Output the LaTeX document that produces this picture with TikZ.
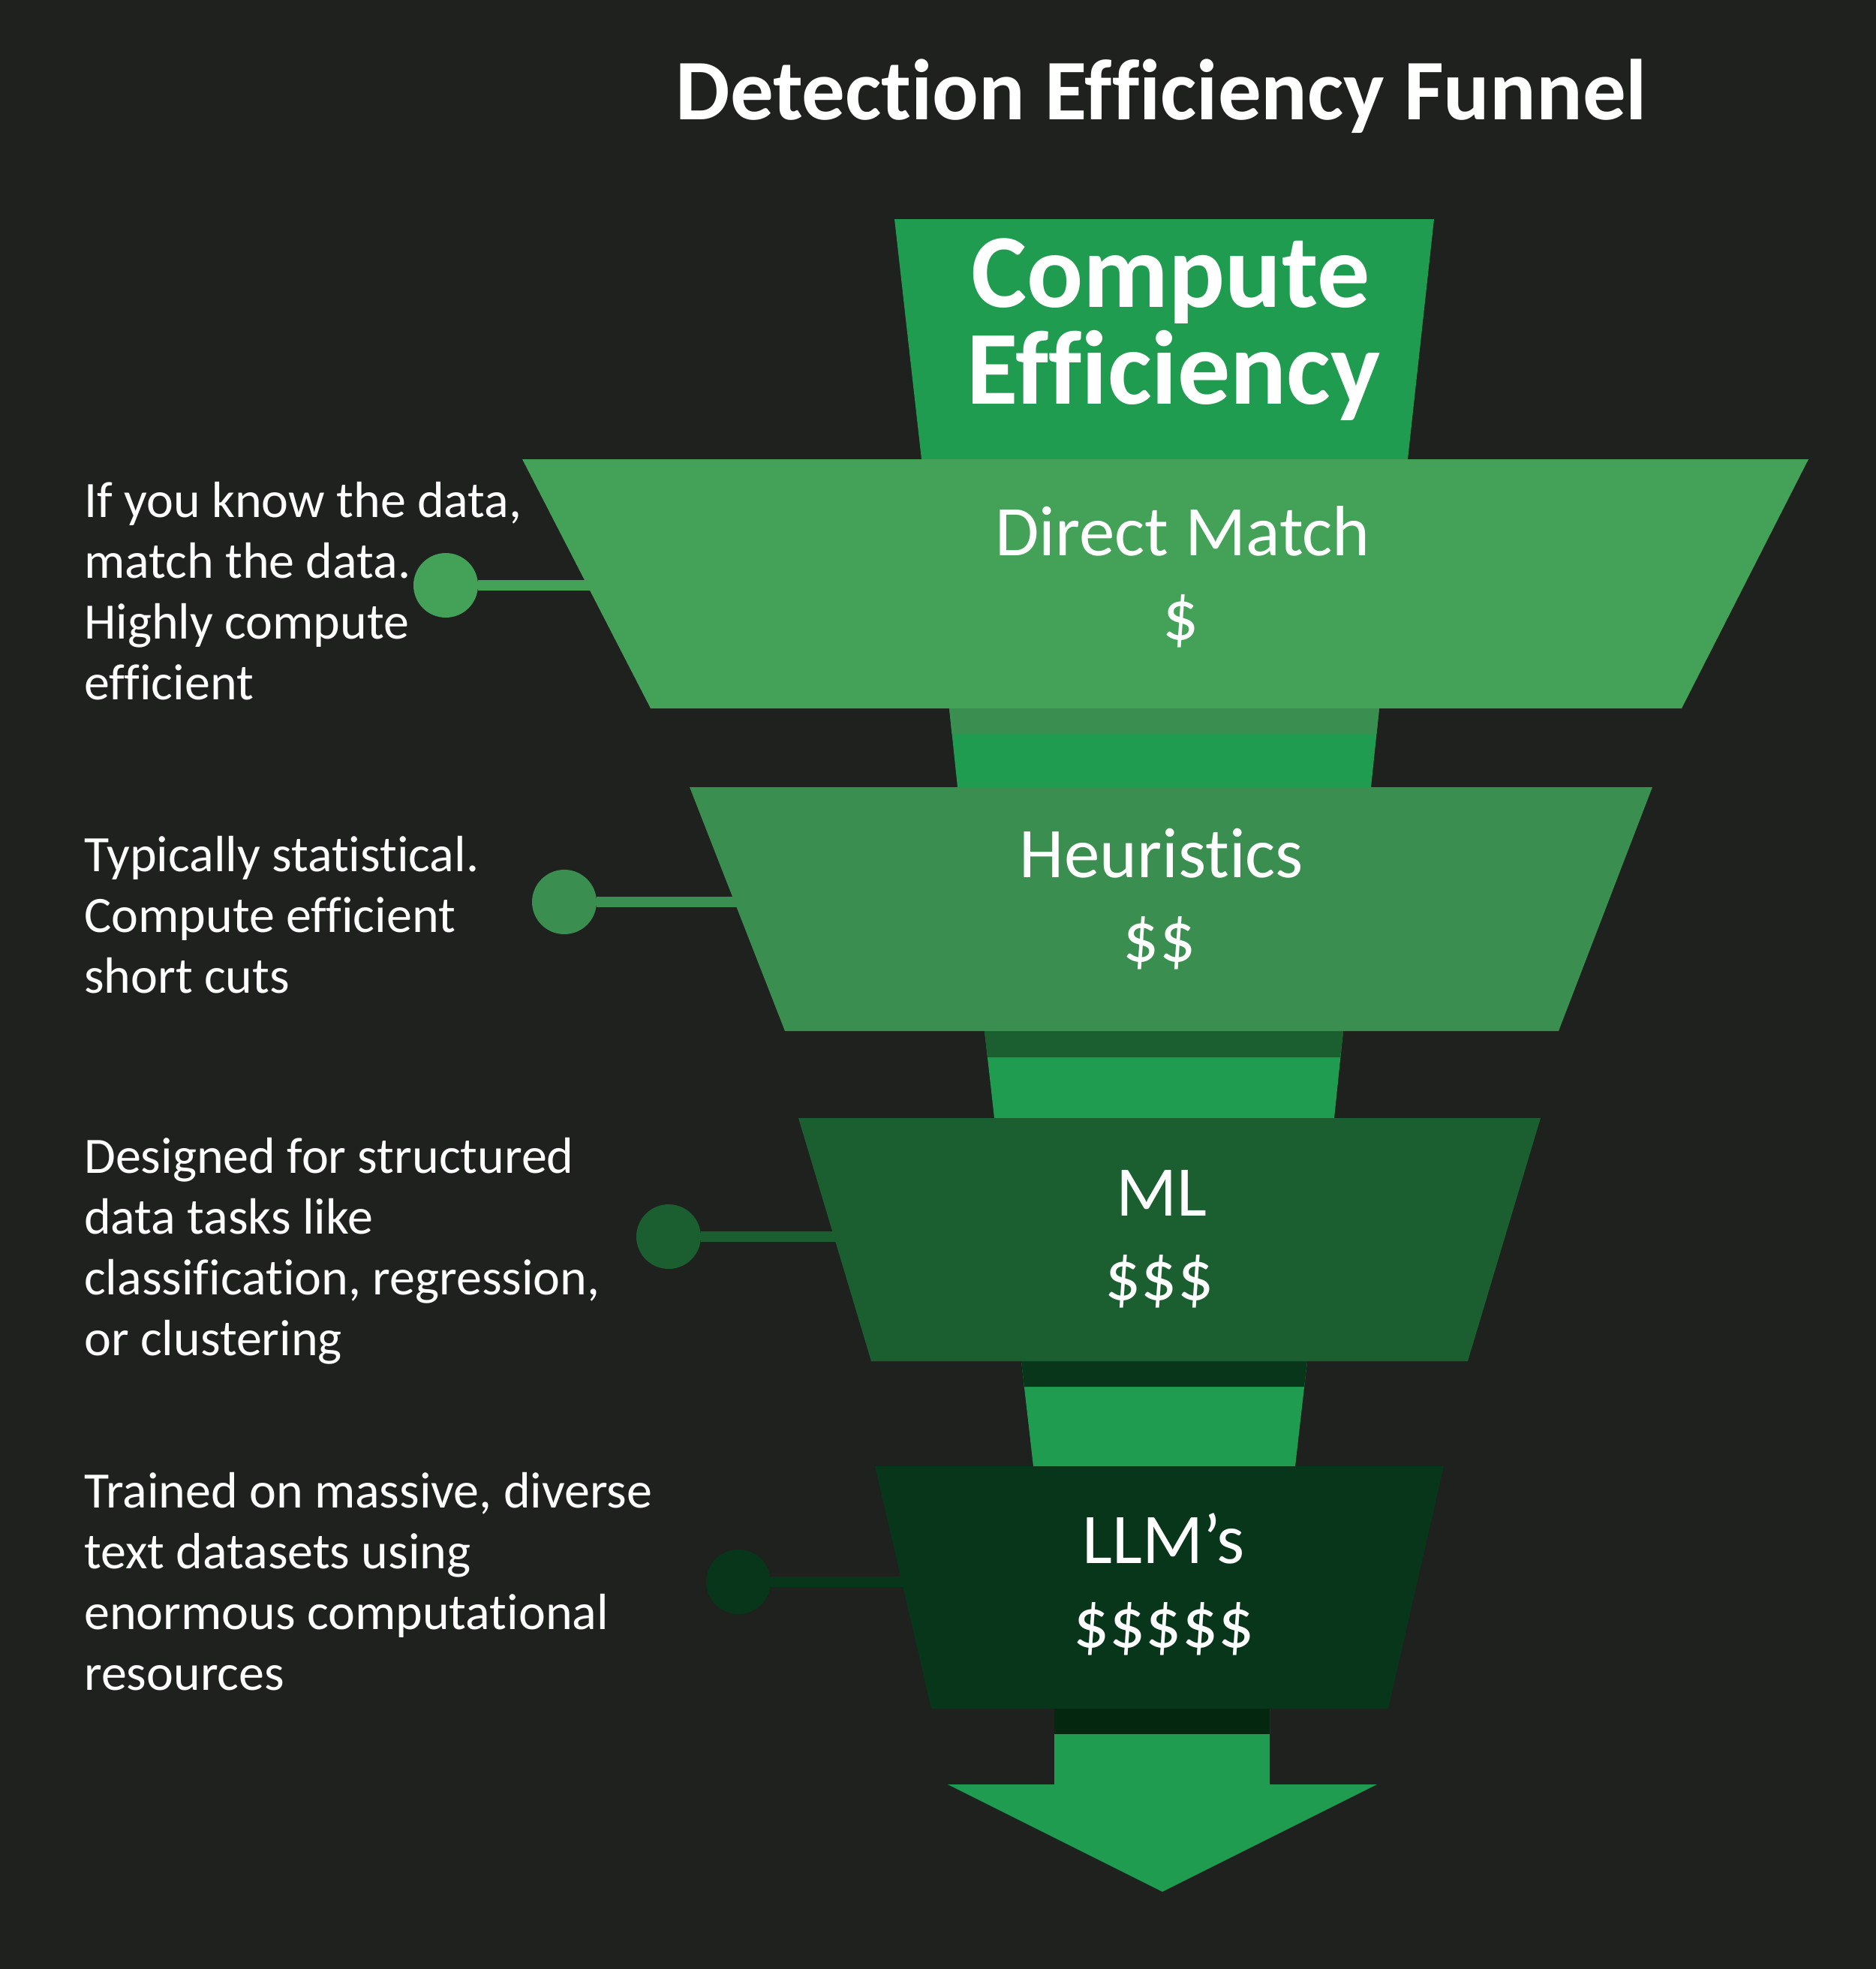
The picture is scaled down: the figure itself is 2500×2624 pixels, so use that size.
\documentclass[tikz,border=0pt]{standalone}
\usepackage{fontspec}
\setmainfont{Carlito}[Ligatures={NoCommon,NoRare,NoContextual}]
\definecolor{bg}{HTML}{1E211E}
\definecolor{bright}{HTML}{209C50}
\definecolor{bandA}{HTML}{44A258}
\definecolor{bandB}{HTML}{3A8E4F}
\definecolor{bandC}{HTML}{1B5E30}
\definecolor{bandD}{HTML}{08361A}
\definecolor{bandE}{HTML}{04280F}
\tikzset{
  desc/.style={anchor=base west, align=left, inner sep=0pt, text=white, font=\fontsize{68}{81}\selectfont},
  lbl/.style={anchor=base, inner sep=0pt, text=white, font=\fontsize{95}{112}\selectfont},
  dot/.style={circle, minimum size=86pt, inner sep=0pt},
  conn/.style={line width=14pt},
}
\begin{document}
\begin{tikzpicture}[x=1pt,y=-1pt]
\useasboundingbox (0,0) rectangle (2500,2624);
\fill[bg] (0,0) rectangle (2500,2624);

% title
\node[anchor=base, inner sep=0pt, text=white, font=\fontsize{115}{120}\bfseries\selectfont] (title) at (1548,159) {Detection Efficiency Funnel};

% top trapezoid
\fill[bright] (1192,292) -- (1911,292) -- (1876,612) -- (1228,612) -- cycle;
\node[anchor=base, inner sep=0pt, text=white, font=\fontsize{140}{129}\bfseries\selectfont] (ce1) at (1560,409) {Compute};
\node[anchor=base, inner sep=0pt, text=white, font=\fontsize{140}{129}\bfseries\selectfont] (ce2) at (1564,538) {Efficiency};

% connectors between bands
\fill[bright] (1265,944) -- (1838,944) -- (1827,1049) -- (1276,1049) -- cycle;
\fill[bandB] (1265,944) -- (1838,944) -- (1834.5,978) -- (1268.5,978) -- cycle;
\fill[bright] (1312,1374) -- (1790,1374) -- (1778,1490) -- (1325,1490) -- cycle;
\fill[bandC] (1312,1374) -- (1790,1374) -- (1786,1409) -- (1316,1409) -- cycle;
\fill[bright] (1361,1814) -- (1742,1814) -- (1726,1954) -- (1377,1954) -- cycle;
\fill[bandD] (1361,1814) -- (1742,1814) -- (1738,1848) -- (1365,1848) -- cycle;

% bottom arrow
\fill[bright] (1405,2277) -- (1692,2277) -- (1692,2378) -- (1835,2378) -- (1549,2521) -- (1263,2378) -- (1405,2378) -- cycle;
\fill[bandE] (1405,2277) rectangle (1692,2311);

% circles and leader lines
\node[dot, fill=bandA] (c1) at (594,780) {};
\node[dot, fill=bandB] (c2) at (752,1202) {};
\node[dot, fill=bandC] (c3) at (891,1648) {};
\node[dot, fill=bandD] (c4) at (984,2108) {};
\coordinate (e1) at (800,780);
\coordinate (e2) at (1000,1202);
\coordinate (e3) at (1130,1648);
\coordinate (e4) at (1220,2108);
\draw[conn, bandA] (c1) -- (e1);
\draw[conn, bandB] (c2) -- (e2);
\draw[conn, bandC] (c3) -- (e3);
\draw[conn, bandD] (c4) -- (e4);

% bands
\fill[bandA] (696,612) -- (2410,612) -- (2241,944) -- (867,944) -- cycle;
\fill[bandB] (919,1049) -- (2202,1049) -- (2077,1374) -- (1046,1374) -- cycle;
\fill[bandC] (1064,1490) -- (2053,1490) -- (1956,1814) -- (1161,1814) -- cycle;
\fill[bandD] (1166,1954) -- (1924,1954) -- (1850,2277) -- (1241,2277) -- cycle;

% band labels
\node[lbl] (l1) at (1576,740) {Direct Match};
\node[lbl] (p1) at (1574,852) {\$};
\node[lbl] (l2) at (1548,1169) {Heuristics};
\node[lbl] (p2) at (1545,1281) {\$\$};
\node[lbl] (l3) at (1548,1620) {ML};
\node[lbl] (p3) at (1545,1732) {\$\$\$};
\node[lbl] (l4) at (1551,2083) {LLM’s};
\node[lbl] (p4) at (1551,2195) {\$\$\$\$\$};

% descriptions (anchor = baseline of last line)
\node[desc] (d1) at (112,932) {If you know the data,\\match the data.\\Highly compute\\efficient};
\node[desc] (d2) at (112,1323) {Typically statistical.\\Compute efficient\\short cuts};
\node[desc] (d3) at (112,1806) {Designed for structured\\data tasks like\\classification, regression,\\or clustering};
\node[desc] (d4) at (112,2252) {Trained on massive, diverse\\text datasets using\\enormous computational\\resources};
\end{tikzpicture}
\end{document}
